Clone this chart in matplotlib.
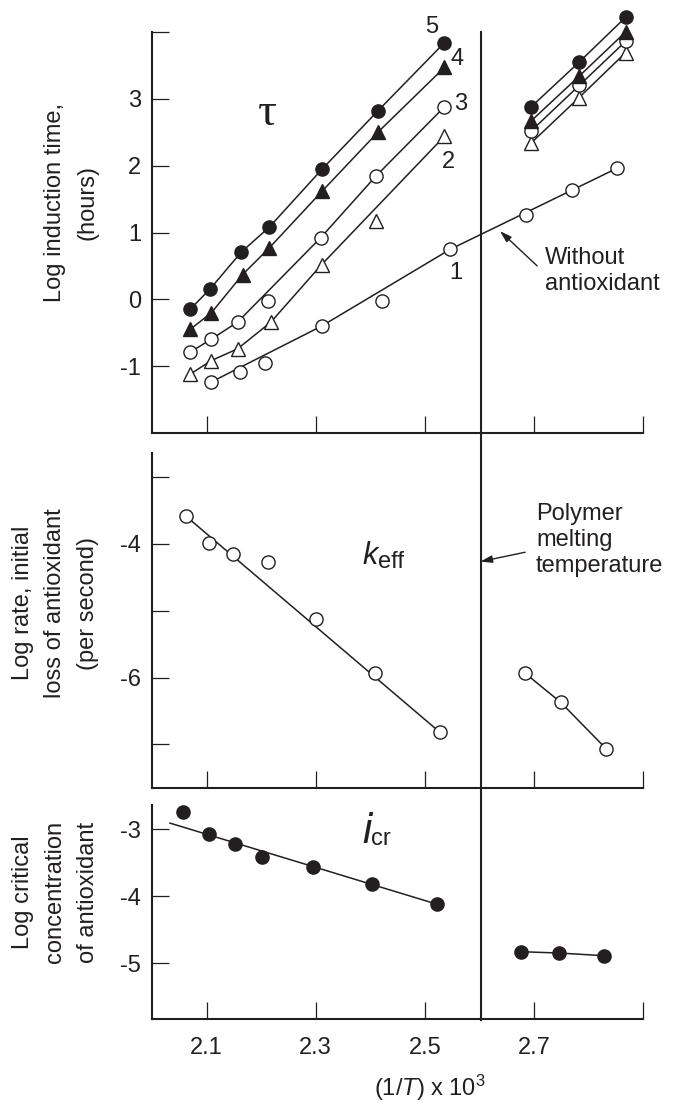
import numpy as np
import matplotlib.pyplot as plt
import matplotlib.transforms as mtransforms
from matplotlib.lines import Line2D

plt.rcParams['font.family'] = ['Liberation Sans', 'DejaVu Sans']
plt.rcParams['mathtext.fontset'] = 'custom'
plt.rcParams['mathtext.rm'] = 'Liberation Sans'
plt.rcParams['mathtext.it'] = 'Liberation Sans:italic'

ink = '#231f20'

# ---- top panel: log induction time (tau) ----
x5 = [2.070, 2.107, 2.164, 2.215, 2.312, 2.414, 2.536]
y5 = [-0.15, 0.16, 0.71, 1.08, 1.95, 2.82, 3.84]
x4 = [2.070, 2.109, 2.166, 2.215, 2.312, 2.414, 2.536]
y4 = [-0.45, -0.20, 0.37, 0.77, 1.62, 2.50, 3.47]
x3 = [2.070, 2.108, 2.157, 2.213, 2.309, 2.410, 2.536]
y3 = [-0.79, -0.60, -0.34, -0.03, 0.92, 1.84, 2.88]
x2 = [2.070, 2.108, 2.157, 2.218, 2.311, 2.410, 2.536]
y2 = [-1.12, -0.92, -0.74, -0.34, 0.52, 1.17, 2.44]
x1 = [2.108, 2.161, 2.207, 2.311, 2.421, 2.547, 2.686, 2.770, 2.852]
y1 = [-1.24, -1.09, -0.95, -0.40, -0.03, 0.75, 1.26, 1.63, 1.96]
# points lying on the drawn line for curves 3 and 2
on3 = [0, 1, 2, 4, 5, 6]
on2 = [0, 1, 2, 3, 4, 6]
# fitted line for curve 1 (without antioxidant)
x1_fit = [2.108, 2.311, 2.547, 2.852]
y1_fit = [-1.24, -0.40, 0.75, 1.96]
# below polymer melting temperature
xh = [2.695, 2.783, 2.868]
y5h = [2.88, 3.55, 4.22]
y4h = [2.67, 3.34, 4.00]
y3h = [2.52, 3.20, 3.86]
y2h = [2.34, 3.02, 3.69]
curve_names = ['5', '4', '3', '2', '1']
curve_label_x = [2.513, 2.559, 2.565, 2.544, 2.556]
curve_label_y = [4.07, 3.59, 2.92, 2.05, 0.40]

# ---- middle panel: k_eff ----
xk = [2.062, 2.104, 2.149, 2.213, 2.301, 2.408, 2.528]
yk = [-3.59, -3.99, -4.15, -4.28, -5.13, -5.93, -6.82]
xk_fit = [2.062, 2.528]
yk_fit = [-3.59, -6.82]
xkh = [2.683, 2.749, 2.832]
ykh = [-5.93, -6.37, -7.06]

# ---- bottom panel: i_cr ----
xi = [2.056, 2.104, 2.152, 2.202, 2.295, 2.404, 2.522]
yi = [-2.75, -3.07, -3.22, -3.42, -3.57, -3.82, -4.12]
xi_fit = [2.033, 2.522]
yi_fit = [-2.91, -4.12]
xih = [2.676, 2.746, 2.829]
yih = [-4.83, -4.85, -4.89]

x_ticks = [2.1, 2.3, 2.5, 2.7, 2.9]
x_ticklabels = ['2.1', '2.3', '2.5', '2.7', '']
t_melt = 2.603

fig = plt.figure(figsize=(6.77, 11.04), dpi=100)
ax1 = fig.add_axes([0.2245, 0.6078, 0.7253, 0.3632])
ax2 = fig.add_axes([0.2245, 0.2862, 0.7253, 0.3034])
ax3 = fig.add_axes([0.2245, 0.0767, 0.7253, 0.1941])

for ax in (ax1, ax2, ax3):
    ax.set_xlim(2.0, 2.9)
    ax.spines[['top', 'right']].set_visible(False)
    for s in ('left', 'bottom'):
        ax.spines[s].set_linewidth(1.5)
        ax.spines[s].set_color(ink)
    ax.tick_params(direction='in', length=12, width=0.9, colors=ink,
                   labelsize=17, pad=8)
    ax.tick_params(axis='x', pad=13)
    ax.set_xticks(x_ticks)
    ax.set_xticklabels(x_ticklabels)
    ax.set_facecolor('none')
ax1.tick_params(axis='x', labelbottom=False)
ax2.tick_params(axis='x', labelbottom=False)

ax1.set_ylim(-2, 4)
ax1.set_yticks([-1, 0, 1, 2, 3, 4])
ax1.set_yticklabels(['-1', '0', '1', '2', '3', ''])
ax2.set_ylim(-7.65, -2.65)
ax2.set_yticks([-3, -4, -5, -6, -7])
ax2.set_yticklabels(['', '-4', '', '-6', ''])
ax3.set_ylim(-5.84, -2.64)
ax3.set_yticks([-3, -4, -5])
ax3.set_yticklabels(['-3', '-4', '-5'])

lw = 1.1
ms = 9.5
kw = dict(color=ink, lw=lw, clip_on=False)
filled_o = dict(ls='none', marker='o', ms=ms, mfc=ink, mec=ink, clip_on=False, zorder=3)
open_o = dict(ls='none', marker='o', ms=ms, mfc='white', mec=ink, mew=1.0, clip_on=False, zorder=3)
filled_t = dict(ls='none', marker='^', ms=ms + 1, mfc=ink, mec=ink, clip_on=False, zorder=3)
open_t = dict(ls='none', marker='^', ms=ms + 1, mfc='white', mec=ink, mew=1.0, clip_on=False, zorder=3)

# top panel
ax1.plot(x5, y5, **kw)
ax1.plot(x4, y4, **kw)
ax1.plot([x3[i] for i in on3], [y3[i] for i in on3], **kw)
ax1.plot([x2[i] for i in on2], [y2[i] for i in on2], **kw)
ax1.plot(x1_fit, y1_fit, **kw)
for yy in (y5h, y4h, y3h, y2h):
    ax1.plot(xh, yy, **kw)
ax1.plot(x2, y2, **open_t)
ax1.plot(xh, y2h, **open_t)
ax1.plot(x3, y3, **open_o)
ax1.plot(xh, y3h, **open_o)
ax1.plot(x4, y4, **filled_t)
ax1.plot(xh, y4h, **filled_t)
ax1.plot(x5, y5, **filled_o)
ax1.plot(xh, y5h, **filled_o)
ax1.plot(x1, y1, **open_o)
for name, lx, ly in zip(curve_names, curve_label_x, curve_label_y):
    ax1.text(lx, ly, name, fontsize=17, color=ink, ha='center', va='center', clip_on=False)
ax1.text(2.212, 2.77, 'τ', family=['Liberation Serif', 'DejaVu Serif'],
         fontsize=34, color=ink, ha='center', va='center')
ax1.text(2.721, 0.42, 'Without\nantioxidant', fontsize=17, color=ink,
         ha='left', va='center', linespacing=1.25, clip_on=False)
ax1.annotate('', xy=(2.638, 1.02), xytext=(2.706, 0.50),
             arrowprops=dict(arrowstyle='-|>,head_length=0.7,head_width=0.22',
                             color=ink, lw=1.0, shrinkA=0, shrinkB=0))

# middle panel
ax2.plot(xk_fit, yk_fit, **kw)
ax2.plot(xkh, ykh, **kw)
ax2.plot(xk, yk, **open_o)
ax2.plot(xkh, ykh, **open_o)
ax2.text(2.386, -4.30, 'k', fontsize=22, style='italic', color=ink, ha='left', va='baseline')
ax2.text(2.414, -4.37, 'eff', fontsize=17, color=ink, ha='left', va='baseline')
ax2.text(2.704, -3.95, 'Polymer\nmelting\ntemperature', fontsize=17, color=ink,
         ha='left', va='center', linespacing=1.25, clip_on=False)
ax2.annotate('', xy=(2.602, -4.27), xytext=(2.684, -4.13),
             arrowprops=dict(arrowstyle='-|>,head_length=0.7,head_width=0.22',
                             color=ink, lw=1.0, shrinkA=0, shrinkB=0))

# bottom panel
ax3.plot(xi_fit, yi_fit, **kw)
ax3.plot(xih, yih, **kw)
ax3.plot(xi, yi, **filled_o)
ax3.plot(xih, yih, **filled_o)
ax3.text(2.386, -3.21, 'i', fontsize=30, style='italic', color=ink, ha='left', va='baseline')
ax3.text(2.401, -3.23, 'cr', fontsize=17, color=ink, ha='left', va='baseline')

# polymer melting temperature line through all panels
trans = mtransforms.blended_transform_factory(ax3.transData, fig.transFigure)
fig.add_artist(Line2D([t_melt, t_melt], [1 - 32 / 1104, 1 - 1020 / 1104],
                      transform=trans, color=ink, lw=1.5))

# axis titles
fig.text(71.5 / 677, 1 - 203 / 1104, 'Log induction time,\n(hours)', rotation=90,
         fontsize=17, color=ink, ha='center', va='center', multialignment='center',
         linespacing=1.6)
fig.text(55.5 / 677, 1 - 603 / 1104, 'Log rate, initial\nloss of antioxidant\n(per second)',
         rotation=90, fontsize=17, color=ink, ha='center', va='center',
         multialignment='center', linespacing=1.6)
fig.text(55.5 / 677, 1 - 892 / 1104, 'Log critical\nconcentration\nof antioxidant',
         rotation=90, fontsize=17, color=ink, ha='center', va='center',
         multialignment='center', linespacing=1.6)
fig.text(430 / 677, 1 - 1088 / 1104, r'(1/$T$) x 10$^3$', fontsize=17, color=ink,
         ha='center', va='center')

fig.savefig('out.png', dpi=100)
